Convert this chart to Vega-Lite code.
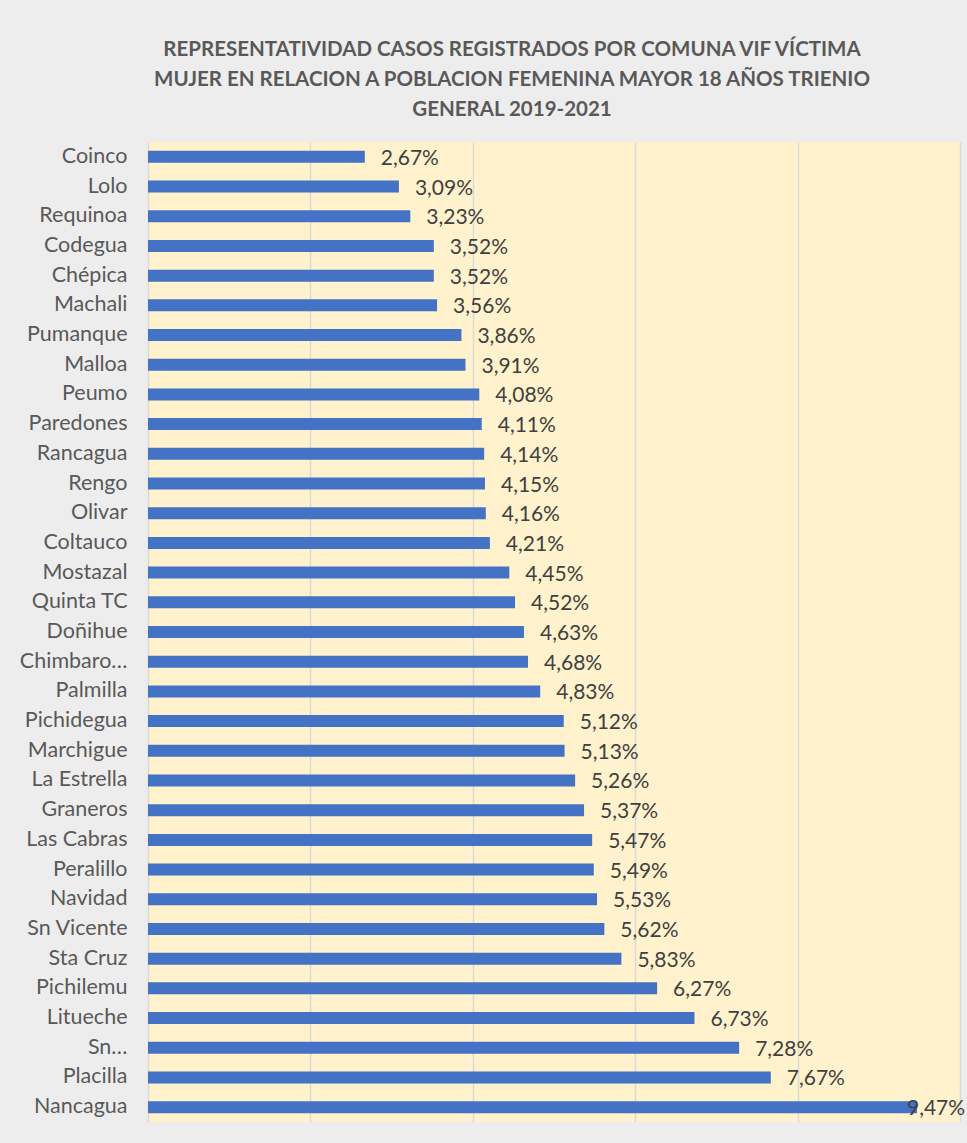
{
  "$schema": "https://vega.github.io/schema/vega-lite/v6.json",
  "width": 812,
  "height": 980,
  "autosize": {"type": "none"},
  "padding": {"left": 148, "top": 142, "right": 7, "bottom": 21},
  "background": "#ededed",
  "config": {
    "locale": {"number": {"decimal": ",", "thousands": ".", "grouping": [3], "currency": ["", " €"]}},
    "font": "Lato",
    "view": {"fill": "#fff2cc", "stroke": null}
  },
  "title": {
    "text": ["REPRESENTATIVIDAD CASOS REGISTRADOS POR COMUNA VIF VÍCTIMA", "MUJER EN RELACION A POBLACION FEMENINA MAYOR 18 AÑOS TRIENIO", "GENERAL 2019-2021"],
    "anchor": "middle",
    "dx": -42,
    "fontSize": 20.5,
    "fontWeight": "bold",
    "color": "#595959",
    "lineHeight": 30,
    "offset": 22,
    "font": "Lato"
  },
  "data": {"values": [
    {"comuna": "Coinco", "valor": 0.0267},
    {"comuna": "Lolo", "valor": 0.0309},
    {"comuna": "Requinoa", "valor": 0.0323},
    {"comuna": "Codegua", "valor": 0.0352},
    {"comuna": "Chépica", "valor": 0.0352},
    {"comuna": "Machali", "valor": 0.0356},
    {"comuna": "Pumanque", "valor": 0.0386},
    {"comuna": "Malloa", "valor": 0.0391},
    {"comuna": "Peumo", "valor": 0.0408},
    {"comuna": "Paredones", "valor": 0.0411},
    {"comuna": "Rancagua", "valor": 0.0414},
    {"comuna": "Rengo", "valor": 0.0415},
    {"comuna": "Olivar", "valor": 0.0416},
    {"comuna": "Coltauco", "valor": 0.0421},
    {"comuna": "Mostazal", "valor": 0.0445},
    {"comuna": "Quinta TC", "valor": 0.0452},
    {"comuna": "Doñihue", "valor": 0.0463},
    {"comuna": "Chimbaro…", "valor": 0.0468},
    {"comuna": "Palmilla", "valor": 0.0483},
    {"comuna": "Pichidegua", "valor": 0.0512},
    {"comuna": "Marchigue", "valor": 0.0513},
    {"comuna": "La Estrella", "valor": 0.0526},
    {"comuna": "Graneros", "valor": 0.0537},
    {"comuna": "Las Cabras", "valor": 0.0547},
    {"comuna": "Peralillo", "valor": 0.0549},
    {"comuna": "Navidad", "valor": 0.0553},
    {"comuna": "Sn Vicente", "valor": 0.0562},
    {"comuna": "Sta Cruz", "valor": 0.0583},
    {"comuna": "Pichilemu", "valor": 0.0627},
    {"comuna": "Litueche", "valor": 0.0673},
    {"comuna": "Sn…", "valor": 0.0728},
    {"comuna": "Placilla", "valor": 0.0767},
    {"comuna": "Nancagua", "valor": 0.0947}
  ]},
  "encoding": {
    "y": {
      "field": "comuna", "type": "nominal", "sort": null, "title": null,
      "axis": {"domain": false, "ticks": false, "labelFontSize": 21.5, "labelColor": "#595959", "labelPadding": 21, "labelLimit": 200, "labelFont": "Lato"}
    },
    "x": {
      "field": "valor", "type": "quantitative", "title": null,
      "scale": {"domain": [0, 0.1], "nice": false},
      "axis": {"values": [0, 0.02, 0.04, 0.06, 0.08, 0.1], "labels": false, "ticks": false, "domain": false, "grid": true, "gridColor": "#d9d9d9", "gridWidth": 1.5}
    }
  },
  "layer": [
    {"mark": {"type": "bar", "color": "#4472c4", "height": 12}},
    {
      "transform": [{"filter": "datum.valor < 0.09"}],
      "mark": {"type": "text", "align": "left", "baseline": "middle", "dx": 16, "dy": 2, "fontSize": 21, "color": "#404040", "font": "Lato"},
      "encoding": {"text": {"field": "valor", "type": "quantitative", "format": ".2%"}}
    },
    {
      "transform": [{"filter": "datum.valor >= 0.09"}],
      "mark": {"type": "text", "align": "left", "baseline": "middle", "dx": -10, "dy": 2, "fontSize": 21, "color": "#404040", "font": "Lato"},
      "encoding": {"text": {"field": "valor", "type": "quantitative", "format": ".2%"}}
    }
  ]
}
